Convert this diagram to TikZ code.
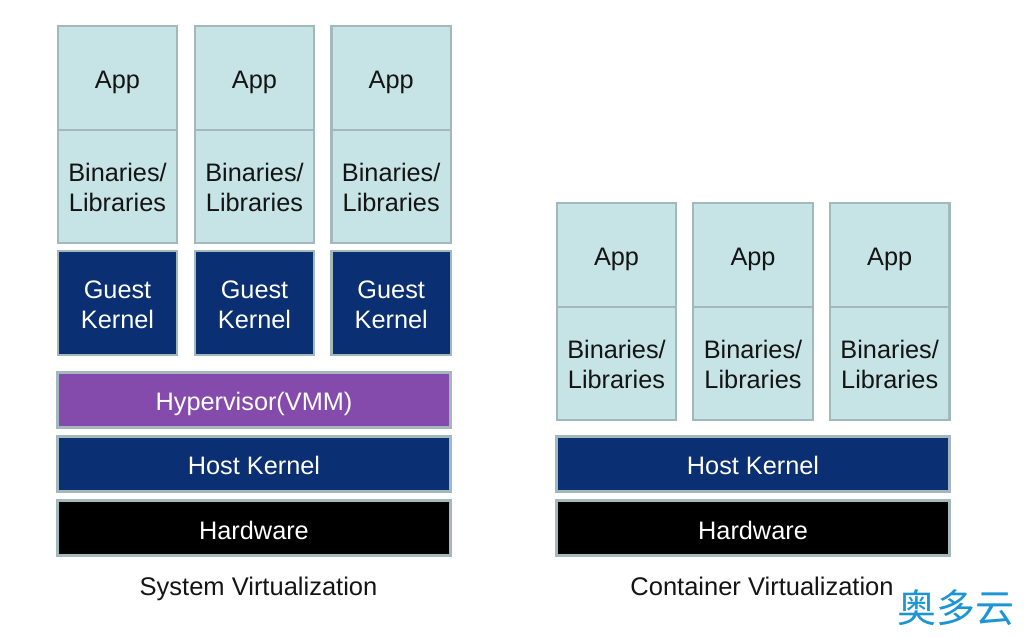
\documentclass[tikz,border=0pt]{standalone}
\usepackage{fontspec}
\setmainfont{Liberation Sans}
\newfontfamily\cjk{Noto Sans CJK SC}
\definecolor{paleblue}{HTML}{C6E3E5}
\definecolor{edgegrey}{HTML}{A3B8BB}
\definecolor{navy}{HTML}{0B2F73}
\definecolor{violet2}{HTML}{854BAC}
\definecolor{wmblue}{HTML}{1B95D3}
\definecolor{txtdark}{HTML}{141414}
% lowers a line of text inside its node without changing the node's size
\newcommand{\dn}[2]{\raisebox{-#1pt}[\height][\depth]{#2}}
\tikzset{
  x=1pt,y=-1pt,
  base/.style={rectangle,draw=edgegrey,line width=2.4pt,outer sep=0pt,inner sep=0pt,align=center,
     font=\fontsize{25.3}{30}\selectfont},
  appbox/.style={base,fill=paleblue,text=txtdark,minimum width=119.5pt,minimum height=104pt},
  binbox/.style={base,fill=paleblue,text=txtdark,minimum width=119.5pt,minimum height=112.5pt},
  guestbox/.style={base,fill=navy,text=white,minimum width=119.5pt,minimum height=103.5pt},
  widebox/.style={base,text=white,minimum width=393pt,minimum height=55pt},
  hyper/.style={widebox,fill=violet2},
  hostbox/.style={widebox,fill=navy},
  hwbox/.style={widebox,fill=black},
  caption/.style={font=\fontsize{25.5}{30}\selectfont,text=txtdark,inner sep=0pt},
  watermark/.style={font=\fontsize{39}{44}\cjk,text=wmblue,inner sep=0pt}
}
\begin{document}
\begin{tikzpicture}
\useasboundingbox (0,0) rectangle (1024,637);
% left stack
\node[appbox] (a1) at (117.5,78) {\dn{4}{App}};
\node[appbox] (a2) at (254.5,78) {\dn{4}{App}};
\node[appbox] (a3) at (391.2,78) {\dn{4}{App}};
\node[binbox] (b1) at (117.5,186.5) {\dn{1}{Binaries/}\\\dn{1}{Libraries}};
\node[binbox] (b2) at (254.5,186.5) {\dn{1}{Binaries/}\\\dn{1}{Libraries}};
\node[binbox] (b3) at (391.2,186.5) {\dn{1}{Binaries/}\\\dn{1}{Libraries}};
\node[guestbox] (g1) at (117.5,303) {\dn{2}{Guest}\\\dn{2}{Kernel}};
\node[guestbox] (g2) at (254.5,303) {\dn{2}{Guest}\\\dn{2}{Kernel}};
\node[guestbox] (g3) at (391.2,303) {\dn{2}{Guest}\\\dn{2}{Kernel}};
\node[hyper] (hv) at (254,400) {\dn{4}{Hypervisor(VMM)}};
\node[hostbox] (hk) at (254,464) {\dn{1}{Host Kernel}};
\node[hwbox] (hw) at (254,528) {\dn{2}{Hardware}};
\node[caption] (c1) at (258.5,586) {\dn{3}{System Virtualization}};
% right stack
\node[appbox] (ra1) at (616.5,255) {\dn{4}{App}};
\node[appbox] (ra2) at (753,255) {\dn{4}{App}};
\node[appbox] (ra3) at (889.7,255) {\dn{4}{App}};
\node[binbox] (rb1) at (616.5,363.5) {\dn{1}{Binaries/}\\\dn{1}{Libraries}};
\node[binbox] (rb2) at (753,363.5) {\dn{1}{Binaries/}\\\dn{1}{Libraries}};
\node[binbox] (rb3) at (889.7,363.5) {\dn{1}{Binaries/}\\\dn{1}{Libraries}};
\node[hostbox] (rhk) at (753,464) {\dn{1}{Host Kernel}};
\node[hwbox] (rhw) at (753,528) {\dn{2}{Hardware}};
\node[caption] (c2) at (762,586) {\dn{0}{Container Virtualization}};
\node[watermark] (wm) at (955.5,608) {奥多云};
\end{tikzpicture}
\end{document}
